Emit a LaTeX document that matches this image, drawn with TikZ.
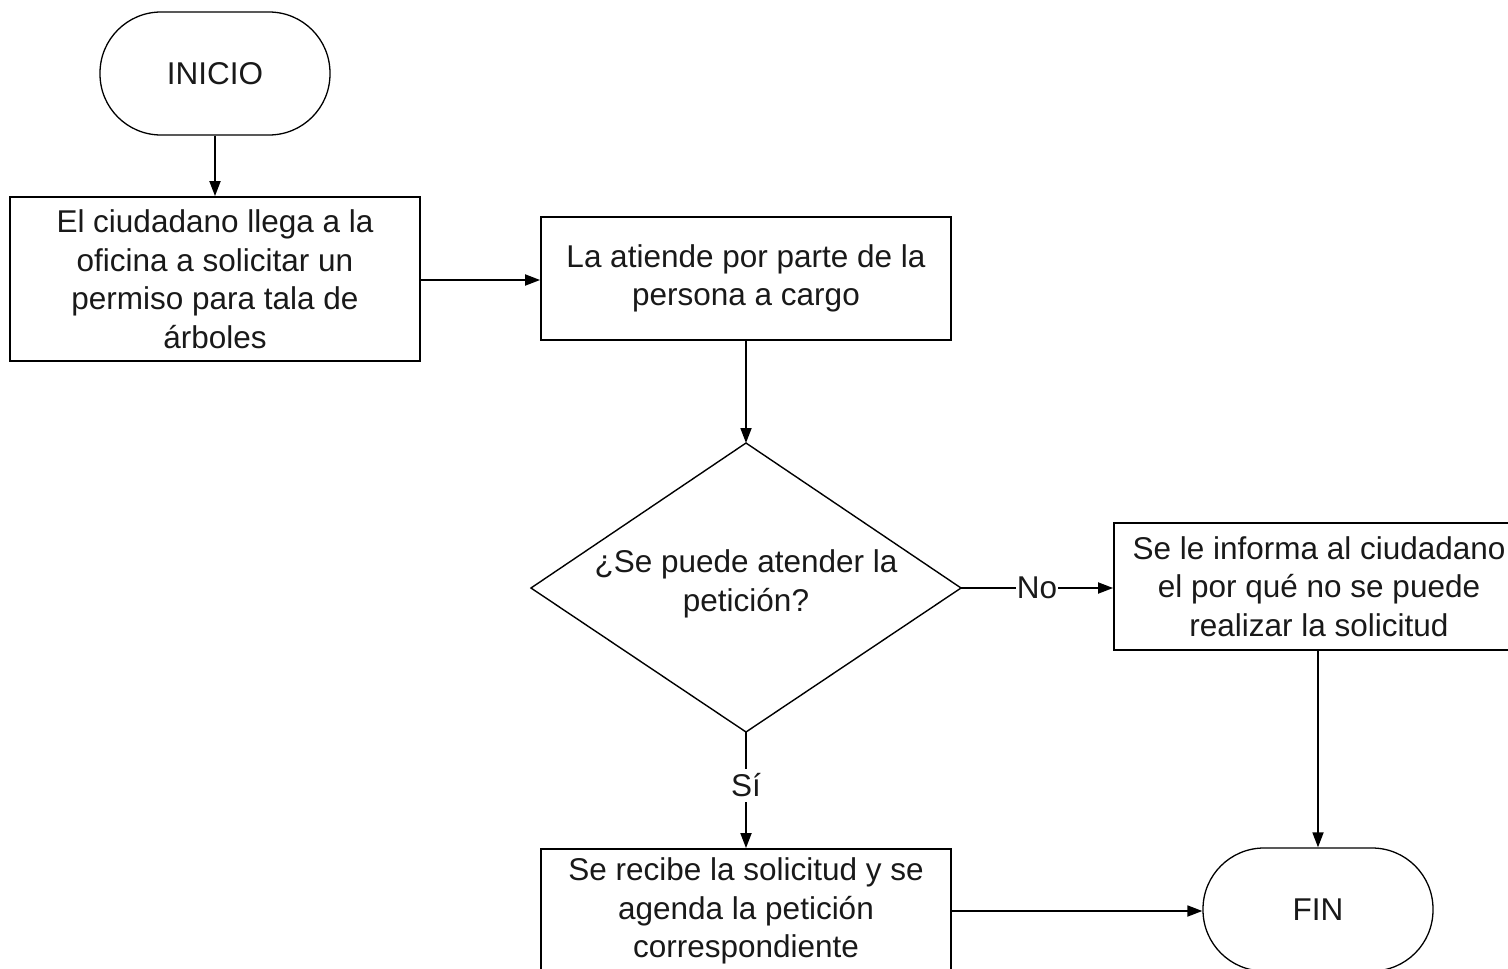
\documentclass[tikz,border=0pt]{standalone}
\usepackage{fontspec}
\setmainfont{Liberation Sans}
\usetikzlibrary{arrows.meta}
\begin{document}
\begin{tikzpicture}[x=1pt,y=-1pt,
  every node/.style={font=\fontsize{31.5}{38.5}\selectfont, text=black!90},
  procbox/.style={draw, line width=1.8pt, align=center, inner sep=0pt},
  termbox/.style={draw, line width=1.3pt, rounded corners=61pt, minimum width=230pt, minimum height=123pt, inner sep=0pt},
  decbox/.style={draw, line width=1.4pt},
  conn/.style={line width=1.8pt, -{Triangle[length=15pt,width=11pt]}},
  lbl/.style={fill=white, inner sep=1pt}
]
\useasboundingbox (0,0) rectangle (1508,969);
\clip (0,0) rectangle (1508,969);
\fill[white] (0,0) rectangle (1508,969);

\node[termbox] (ini) at (215,73.5) {INICIO};
\node[procbox, minimum width=410pt, minimum height=164pt] (b1) at (215,279)
  {El ciudadano llega a la\\oficina a solicitar un\\permiso para tala de\\árboles};
\node[procbox, minimum width=410pt, minimum height=123pt] (b2) at (746,278.5)
  {La atiende por parte de la\\persona a cargo};
\draw[decbox] (746,443) coordinate (dt) -- (961,588) coordinate (dr) -- (746,732) coordinate (db) -- (531,588) coordinate (dl) -- cycle;
\node[align=center] (q) at (746,584) {¿Se puede atender la\\petición?};
\node[procbox, minimum width=420pt, minimum height=127pt] (b3) at (1324,586.5)
  {\hspace*{-10pt}Se le informa al ciudadano\\\hspace*{-10pt}el por qué no se puede\\\hspace*{-10pt}realizar la solicitud};
\node[procbox, minimum width=410pt, minimum height=124pt] (b4) at (746,911)
  {Se recibe la solicitud y se\\agenda la petición\\correspondiente};
\node[termbox] (fin) at (1318,909.5) {FIN};

\draw[conn] (ini.south) -- (b1.north);
\draw[conn] (b1.east |- 0,280) -- (b2.west |- 0,280);
\draw[conn] (b2.south) -- (dt);
\draw[conn] (dr) -- node[lbl, pos=0.5] {No} (b3.west |- dr);
\draw[conn] (db) -- node[lbl, pos=0.46, inner sep=5pt] {Sí} (b4.north);
\draw[conn] (b3.south -| fin.north) -- (fin.north);
\draw[conn] (b4.east |- 0,911) -- (fin.west |- 0,911);
\end{tikzpicture}
\end{document}
